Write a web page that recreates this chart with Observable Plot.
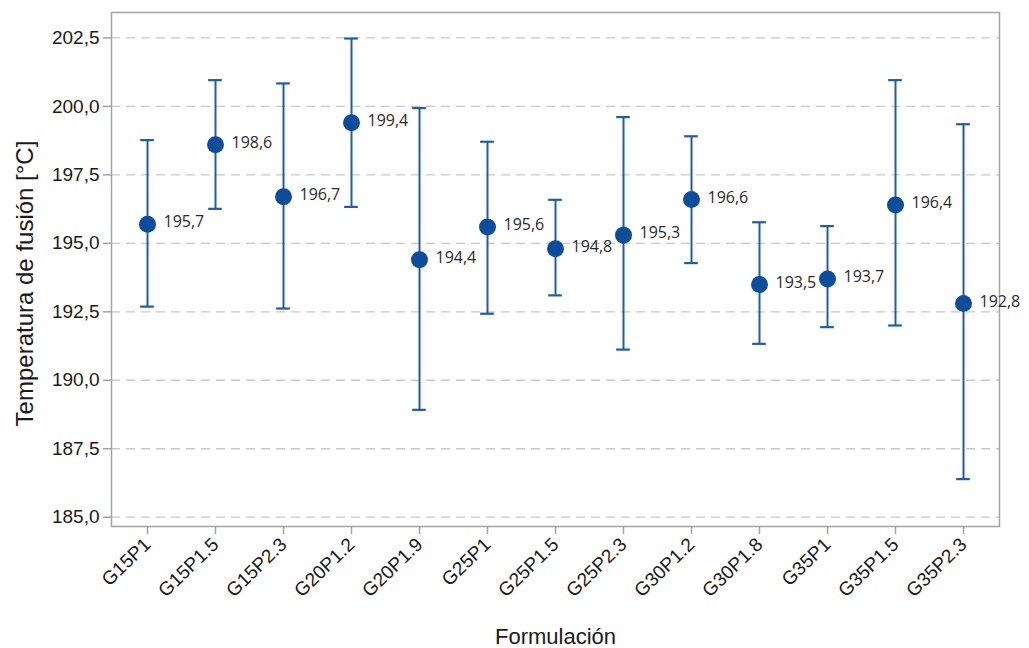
<!DOCTYPE html>
<html>
<head>
<meta charset="utf-8">
<script src="https://cdn.jsdelivr.net/npm/d3@7"></script>
<script src="https://cdn.jsdelivr.net/npm/@observablehq/plot@0.6"></script>
<style>
  html, body { margin: 0; padding: 0; background: #fff; }
  #chart svg { display: block; }
</style>
</head>
<body>
<div id="chart"></div>
<script>
// Melting temperature by formulation: mean with interval limits (°C)
const formulations = ["G15P1", "G15P1.5", "G15P2.3", "G20P1.2", "G20P1.9", "G25P1", "G25P1.5",
                      "G25P2.3", "G30P1.2", "G30P1.8", "G35P1", "G35P1.5", "G35P2.3"];
const means = [195.7, 198.6, 196.7, 199.4, 194.4, 195.6, 194.8, 195.3, 196.6, 193.5, 193.7, 196.4, 192.8];
const upper = [198.77, 200.96, 200.84, 202.48, 199.94, 198.71, 196.59, 199.61, 198.91, 195.77, 195.63, 200.96, 199.35];
const lower = [192.69, 196.26, 192.62, 196.33, 188.92, 192.43, 193.10, 191.12, 194.28, 191.33, 191.94, 192.00, 186.39];
const yTicks = [185, 187.5, 190, 192.5, 195, 197.5, 200, 202.5];

const rows = formulations.map((f, i) => ({f, mean: means[i], hi: upper[i], lo: lower[i]}));
const comma = (v, digits) => v.toFixed(digits).replace(".", ",");

const width = 1029, marginLeft = 111, marginRight = 30;
const bandWidth = (width - marginLeft - marginRight) / formulations.length;
const capHalf = 7;
const capInset = bandWidth / 2 - capHalf;

const barColor = "#1c5db2";
const dotColor = "#0e4c9c";
const axisFont = "Liberation Sans, Arial, sans-serif";

const chart = Plot.plot({
  width,
  height: 648,
  marginLeft,
  marginRight,
  marginTop: 12,
  marginBottom: 122,
  style: {fontFamily: axisFont, background: "#fff"},
  x: {type: "band", domain: formulations, padding: 0, label: null},
  y: {domain: [184.66, 203.43], label: null},
  marks: [
    Plot.gridY(yTicks, {stroke: "#c8c8c8", strokeOpacity: 1, strokeDasharray: "9,6", strokeWidth: 1.3}),
    Plot.frame({stroke: "#a3a3a3", strokeWidth: 1.5}),
    Plot.axisY(yTicks, {
      tickFormat: d => comma(d, 1), tickSize: 8, tickPadding: 4,
      fontSize: 19, fill: "#1a1a1a", stroke: "#a3a3a3", strokeWidth: 1.5, label: null
    }),
    Plot.axisX({
      tickSize: 8, tickRotate: -44, tickPadding: 7, textAnchor: "end",
      fontSize: 19, fill: "#1a1a1a", stroke: "#a3a3a3", strokeWidth: 1.5, label: null
    }),
    // interval whiskers and caps
    Plot.ruleX(rows, {x: "f", y1: "lo", y2: "hi", stroke: barColor, strokeWidth: 2}),
    Plot.tickY(rows, {x: "f", y: "hi", stroke: barColor, strokeWidth: 2.2, insetLeft: capInset, insetRight: capInset}),
    Plot.tickY(rows, {x: "f", y: "lo", stroke: barColor, strokeWidth: 2.2, insetLeft: capInset, insetRight: capInset}),
    // means
    Plot.dot(rows, {x: "f", y: "mean", r: 8.5, fill: dotColor, stroke: "none"}),
    Plot.text(rows, {
      x: "f", y: "mean", text: d => comma(d.mean, 1), dx: 16, dy: -2, textAnchor: "start",
      fontSize: 16, fill: "#2a2a2a", fontFamily: "Open Sans, sans-serif"
    }),
    // axis titles
    Plot.text(["Temperatura de fusión [°C]"], {
      frameAnchor: "left", textAnchor: "middle", lineAnchor: "middle", rotate: -90,
      dx: -86, dy: 14, fontSize: 24, fill: "#1a1a1a", fontFamily: axisFont,
      letterSpacing: "1.4px"
    }),
    Plot.text(["Formulación"], {
      frameAnchor: "bottom", lineAnchor: "middle", dy: 110, fontSize: 22, fill: "#1a1a1a", fontFamily: axisFont
    })
  ]
});

document.getElementById("chart").append(chart);
</script>
</body>
</html>
